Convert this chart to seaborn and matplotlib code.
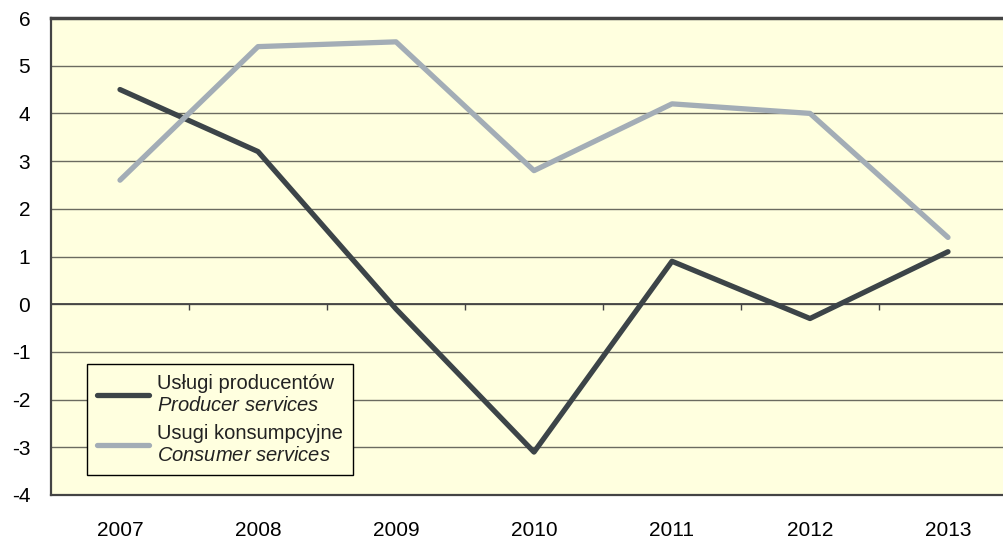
import matplotlib
matplotlib.use("Agg")
import matplotlib.pyplot as plt
import numpy as np
import pandas as pd
import seaborn as sns

years = [2007, 2008, 2009, 2010, 2011, 2012, 2013]
producer = [4.5, 3.2, -0.1, -3.1, 0.9, -0.3, 1.1]
consumer = [2.6, 5.4, 5.5, 2.8, 4.2, 4.0, 1.4]

lab_prod = "Usługi producentów\n" + r"$\mathit{Producer\ services}$"
lab_cons = "Usugi konsumpcyjne\n" + r"$\mathit{Consumer\ services}$"

df = pd.DataFrame({
    "year": years * 2,
    "value": producer + consumer,
    "series": [lab_prod] * len(years) + [lab_cons] * len(years),
})

sns.set_style("white")
plt.rcParams["font.family"] = ["Liberation Sans", "DejaVu Sans"]
plt.rcParams["mathtext.fontset"] = "custom"
plt.rcParams["mathtext.it"] = "Liberation Sans:italic"
plt.rcParams["mathtext.rm"] = "Liberation Sans"
plt.rcParams["axes.unicode_minus"] = False

fig = plt.figure(figsize=(10.04, 5.40), dpi=100)
ax = fig.add_axes([51 / 1004, 45 / 540, 966 / 1004, 477 / 540])
ax.set_facecolor("#FFFFDF")

for y in range(-3, 6):
    ax.axhline(y, color="#6b6b60", lw=1.0, zorder=1)
ax.axhline(0, color="#444444", lw=1.3, zorder=1)
# small ticks on the zero line between categories
ax.vlines(np.arange(years[0] + 0.5, years[-1] + 1.0, 1.0), -0.12, 0,
          color="#444444", lw=1.0, zorder=1)

sns.lineplot(data=df, x="year", y="value", hue="series",
             palette=["#3C4448", "#A3ADB6"], linewidth=3.8, ax=ax,
             zorder=3, legend=True)
for ln in ax.lines:
    ln.set_solid_capstyle("round")

ax.set_xlim(years[0] - 0.5, years[-1] + 0.5)
ax.set_ylim(-4, 6)
ax.set_xticks(years)
ax.set_yticks(range(-4, 7))
ax.tick_params(axis="both", labelsize=15, length=0, colors="black")
ax.tick_params(axis="x", pad=19)
ax.tick_params(axis="y", pad=15)
ax.set_xlabel("")
ax.set_ylabel("")
for side in ["top", "left", "bottom"]:
    ax.spines[side].set_color("#444444")
    ax.spines[side].set_linewidth(1.6)
ax.spines["top"].set_linewidth(2.5)
ax.spines["right"].set_visible(False)

leg = ax.legend(loc="lower left", bbox_to_anchor=(36 / 966, 20 / 477),
                fontsize=14.5, frameon=True, fancybox=False, handlelength=2.6,
                handletextpad=0.4, labelspacing=0.45, borderpad=0.5,
                borderaxespad=0)
leg.get_frame().set_edgecolor("black")
leg.get_frame().set_linewidth(1.0)
leg.get_frame().set_facecolor("#FFFFDF")
leg.get_frame().set_alpha(1)
for t in leg.get_texts():
    t.set_color("#222222")
    t.set_linespacing(1.2)

fig.savefig("out.png", dpi=100)
